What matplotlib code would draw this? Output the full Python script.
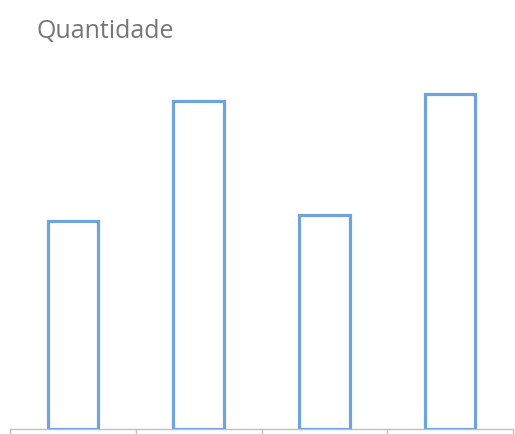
import matplotlib.pyplot as plt

categories = ["A", "B", "C", "D"]
quantidade = [31, 49, 32, 50]

W, H = 515, 434
fig = plt.figure(figsize=(W / 100, H / 100), dpi=100)

# axes placed in pixel terms: baseline at y=429, x from 10 to 513
y_max = 55
px_per_unit = 335 / 50
ax_h = y_max * px_per_unit
ax = fig.add_axes([10 / W, (H - 429) / H, 503 / W, ax_h / H])

positions = range(len(categories))
ax.bar(positions, quantidade, width=0.4, facecolor="white",
       edgecolor="#6fa3dc", linewidth=2.3, zorder=3)

ax.set_xlim(-0.5, len(categories) - 0.5)
ax.set_ylim(0, y_max)
ax.set_yticks([])
ax.set_xticks([p - 0.5 for p in range(len(categories) + 1)])
ax.set_xticklabels([])
ax.tick_params(axis="x", direction="out", length=4, color="#bfbfbf", width=1)
for side in ("top", "right", "left"):
    ax.spines[side].set_visible(False)
ax.spines["bottom"].set_color("#bfbfbf")
ax.spines["bottom"].set_linewidth(1)

fig.text(37 / W, 1 - 31 / H, "Quantidade", fontsize=18, color="#767676",
         family="Open Sans", va="center", ha="left")

fig.savefig("out.png", dpi=100)
